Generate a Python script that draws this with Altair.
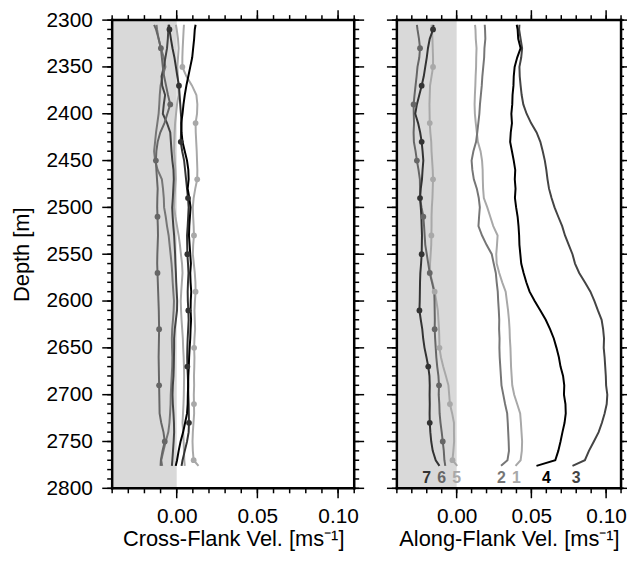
import altair as alt
import pandas as pd

FONT = "Liberation Sans"

# ---------------- data ----------------
depth = [2305, 2310, 2320, 2330, 2340, 2350, 2360, 2370, 2380, 2390,
         2400, 2410, 2420, 2430, 2440, 2450, 2460, 2470, 2480, 2490,
         2500, 2510, 2520, 2530, 2540, 2550, 2560, 2570, 2580, 2590,
         2600, 2610, 2620, 2630, 2640, 2650, 2660, 2670, 2680, 2690,
         2700, 2710, 2720, 2730, 2740, 2750, 2760, 2770, 2776]

profiles = ["1", "2", "3", "5", "6", "7", "4"]
profile_colors = ["#a8a8a8", "#767676", "#444444", "#a8a8a8", "#666666", "#333333", "#000000"]

# Cross-flank velocity [m/s]
cross_1 = [-0.0005, 0.0000, 0.0008, 0.0012, 0.0008, 0.0004, 0.0007, 0.0010, 0.0012, 0.0002,
           -0.0004, -0.0010, -0.0013, -0.0015, -0.0016, -0.0012, -0.0008, -0.0006, -0.0010, -0.0014,
           -0.0016, -0.0008, 0.0002, 0.0012, 0.0020, 0.0026, 0.0033, 0.0036, 0.0032, 0.0028,
           0.0025, 0.0027, 0.0030, 0.0034, 0.0038, 0.0040, 0.0043, 0.0045, 0.0046, 0.0045,
           0.0044, 0.0042, 0.0039, 0.0036, 0.0040, 0.0043, 0.0045, 0.0047, 0.0050]
cross_2 = [-0.0125, -0.0122, -0.0112, -0.0098, -0.0080, -0.0070, -0.0088, -0.0100, -0.0105, -0.0108,
           -0.0112, -0.0120, -0.0128, -0.0134, -0.0140, -0.0134, -0.0118, -0.0092, -0.0085, -0.0080,
           -0.0078, -0.0068, -0.0060, -0.0050, -0.0044, -0.0038, -0.0032, -0.0028, -0.0025, -0.0021,
           -0.0017, -0.0019, -0.0023, -0.0028, -0.0030, -0.0029, -0.0027, -0.0028, -0.0031, -0.0034,
           -0.0037, -0.0038, -0.0041, -0.0045, -0.0052, -0.0068, -0.0082, -0.0096, -0.0090]
cross_3 = [-0.0050, -0.0052, -0.0055, -0.0060, -0.0070, -0.0080, -0.0094, -0.0090, -0.0072, -0.0080,
           -0.0086, -0.0060, -0.0040, -0.0036, -0.0032, -0.0027, -0.0020, -0.0018, -0.0021, -0.0024,
           -0.0028, -0.0025, -0.0021, -0.0016, -0.0013, -0.0010, -0.0008, -0.0005, -0.0003, 0.0000,
           0.0003, 0.0002, -0.0005, -0.0012, -0.0016, -0.0016, -0.0017, -0.0018, -0.0020, -0.0024,
           -0.0026, -0.0024, -0.0020, -0.0017, -0.0016, -0.0019, -0.0023, -0.0027, -0.0030]
cross_4 = [0.0117, 0.0112, 0.0108, 0.0102, 0.0096, 0.0084, 0.0072, 0.0060, 0.0050, 0.0042,
           0.0036, 0.0028, 0.0030, 0.0036, 0.0050, 0.0064, 0.0072, 0.0074, 0.0068, 0.0078,
           0.0086, 0.0082, 0.0078, 0.0076, 0.0080, 0.0084, 0.0088, 0.0084, 0.0086, 0.0090,
           0.0087, 0.0086, 0.0089, 0.0086, 0.0084, 0.0080, 0.0077, 0.0075, 0.0072, 0.0071,
           0.0069, 0.0068, 0.0064, 0.0052, 0.0040, 0.0024, 0.0012, 0.0002, -0.0006]
cross_5 = [0.0045, 0.0043, 0.0040, 0.0037, 0.0035, 0.0035, 0.0060, 0.0095, 0.0122, 0.0128,
           0.0126, 0.0117, 0.0118, 0.0121, 0.0124, 0.0126, 0.0128, 0.0127, 0.0115, 0.0105,
           0.0100, 0.0102, 0.0105, 0.0107, 0.0102, 0.0100, 0.0106, 0.0112, 0.0116, 0.0117,
           0.0113, 0.0110, 0.0112, 0.0114, 0.0110, 0.0108, 0.0110, 0.0109, 0.0107, 0.0108,
           0.0106, 0.0107, 0.0108, 0.0104, 0.0100, 0.0098, 0.0100, 0.0105, 0.0135]
cross_6 = [-0.0140, -0.0128, -0.0112, -0.0098, -0.0092, -0.0086, -0.0078, -0.0066, -0.0054, -0.0040,
           -0.0058, -0.0076, -0.0102, -0.0118, -0.0126, -0.0129, -0.0126, -0.0122, -0.0118, -0.0120,
           -0.0121, -0.0119, -0.0117, -0.0116, -0.0118, -0.0120, -0.0121, -0.0119, -0.0117, -0.0115,
           -0.0113, -0.0111, -0.0110, -0.0109, -0.0110, -0.0111, -0.0112, -0.0111, -0.0110, -0.0109,
           -0.0108, -0.0107, -0.0106, -0.0096, -0.0082, -0.0074, -0.0088, -0.0098, -0.0100]
cross_7 = [-0.0047, -0.0045, -0.0036, -0.0026, -0.0014, -0.0005, 0.0004, 0.0014, 0.0018, 0.0022,
           0.0026, 0.0030, 0.0027, 0.0025, 0.0034, 0.0046, 0.0052, 0.0058, 0.0064, 0.0070,
           0.0074, 0.0071, 0.0068, 0.0064, 0.0065, 0.0066, 0.0070, 0.0073, 0.0070, 0.0068,
           0.0069, 0.0072, 0.0074, 0.0071, 0.0068, 0.0066, 0.0065, 0.0066, 0.0069, 0.0071,
           0.0072, 0.0074, 0.0075, 0.0076, 0.0074, 0.0064, 0.0050, 0.0036, 0.0030]

# Along-flank velocity [m/s]
along_1 = [0.0123, 0.0126, 0.0128, 0.0133, 0.0131, 0.0130, 0.0127, 0.0125, 0.0122, 0.0120,
           0.0122, 0.0128, 0.0135, 0.0142, 0.0160, 0.0170, 0.0174, 0.0175, 0.0177, 0.0182,
           0.0205, 0.0225, 0.0245, 0.0274, 0.0270, 0.0265, 0.0268, 0.0285, 0.0305, 0.0328,
           0.0336, 0.0344, 0.0350, 0.0354, 0.0356, 0.0360, 0.0362, 0.0364, 0.0368, 0.0372,
           0.0385, 0.0405, 0.0425, 0.0430, 0.0434, 0.0438, 0.0436, 0.0428, 0.0394]
along_2 = [0.0188, 0.0190, 0.0192, 0.0186, 0.0184, 0.0178, 0.0172, 0.0168, 0.0162, 0.0156,
           0.0152, 0.0145, 0.0138, 0.0130, 0.0112, 0.0100, 0.0105, 0.0115, 0.0135, 0.0148,
           0.0155, 0.0150, 0.0146, 0.0170, 0.0200, 0.0235, 0.0248, 0.0262, 0.0268, 0.0275,
           0.0278, 0.0282, 0.0285, 0.0284, 0.0287, 0.0286, 0.0288, 0.0292, 0.0296, 0.0300,
           0.0312, 0.0324, 0.0338, 0.0342, 0.0345, 0.0348, 0.0350, 0.0340, 0.0297]
along_3 = [0.0420, 0.0418, 0.0428, 0.0438, 0.0432, 0.0420, 0.0422, 0.0428, 0.0435, 0.0446,
           0.0468, 0.0498, 0.0535, 0.0560, 0.0576, 0.0590, 0.0600, 0.0608, 0.0618, 0.0635,
           0.0655, 0.0680, 0.0706, 0.0725, 0.0750, 0.0775, 0.0792, 0.0820, 0.0858, 0.0895,
           0.0922, 0.0945, 0.0970, 0.0980, 0.0986, 0.0984, 0.0990, 0.0994, 0.0998, 0.1000,
           0.1008, 0.1004, 0.0990, 0.0972, 0.0950, 0.0918, 0.0885, 0.0858, 0.0775]
along_4 = [0.0402, 0.0408, 0.0412, 0.0428, 0.0405, 0.0388, 0.0382, 0.0380, 0.0374, 0.0372,
           0.0366, 0.0370, 0.0362, 0.0358, 0.0370, 0.0382, 0.0392, 0.0389, 0.0394, 0.0390,
           0.0398, 0.0408, 0.0414, 0.0418, 0.0420, 0.0426, 0.0432, 0.0448, 0.0466, 0.0488,
           0.0522, 0.0560, 0.0596, 0.0625, 0.0650, 0.0668, 0.0684, 0.0695, 0.0712, 0.0720,
           0.0718, 0.0728, 0.0730, 0.0722, 0.0708, 0.0695, 0.0680, 0.0660, 0.0534]
along_5 = [-0.0168, -0.0166, -0.0162, -0.0160, -0.0158, -0.0158, -0.0168, -0.0178, -0.0180, -0.0182,
           -0.0181, -0.0180, -0.0176, -0.0170, -0.0168, -0.0164, -0.0160, -0.0158, -0.0160, -0.0162,
           -0.0166, -0.0168, -0.0168, -0.0169, -0.0170, -0.0174, -0.0178, -0.0178, -0.0162, -0.0147,
           -0.0136, -0.0126, -0.0122, -0.0118, -0.0116, -0.0115, -0.0105, -0.0090, -0.0072, -0.0055,
           -0.0050, -0.0045, -0.0030, -0.0018, -0.0018, -0.0017, -0.0022, -0.0028, 0.0004]
along_6 = [-0.0266, -0.0262, -0.0252, -0.0245, -0.0250, -0.0262, -0.0268, -0.0275, -0.0282, -0.0288,
           -0.0287, -0.0285, -0.0288, -0.0286, -0.0275, -0.0266, -0.0255, -0.0246, -0.0245, -0.0245,
           -0.0235, -0.0223, -0.0218, -0.0214, -0.0210, -0.0200, -0.0190, -0.0180, -0.0165, -0.0150,
           -0.0148, -0.0147, -0.0146, -0.0147, -0.0144, -0.0140, -0.0136, -0.0130, -0.0122, -0.0118,
           -0.0120, -0.0116, -0.0114, -0.0108, -0.0100, -0.0093, -0.0086, -0.0082, -0.0076]
along_7 = [-0.0155, -0.0158, -0.0180, -0.0192, -0.0200, -0.0210, -0.0220, -0.0234, -0.0250, -0.0266,
           -0.0277, -0.0258, -0.0244, -0.0234, -0.0228, -0.0223, -0.0228, -0.0232, -0.0240, -0.0245,
           -0.0240, -0.0236, -0.0234, -0.0232, -0.0233, -0.0234, -0.0238, -0.0243, -0.0245, -0.0246,
           -0.0247, -0.0249, -0.0240, -0.0230, -0.0224, -0.0215, -0.0202, -0.0190, -0.0182, -0.0180,
           -0.0181, -0.0180, -0.0181, -0.0180, -0.0176, -0.0170, -0.0160, -0.0140, -0.0115]

# depths at which the marker dots sit (profiles 5, 6, 7)
dots_5 = [2350, 2410, 2470, 2530, 2590, 2650, 2710, 2770]
dots_6 = [2330, 2390, 2450, 2510, 2570, 2630, 2690, 2750]
dots_7 = [2310, 2370, 2430, 2490, 2550, 2610, 2670, 2730]

# profile numbers written at the foot of the along-flank panel
label_text = ["7", "6", "5", "2", "1", "4", "3"]
label_vel = [-0.020, -0.010, 0.000, 0.030, 0.040, 0.060, 0.080]
label_depth = [2789, 2789, 2789, 2789, 2789, 2789, 2789]

# shaded (negative velocity) band
shade_vel = [-0.04, 0.0]
depth_range = [2300, 2800]
vel_range = [-0.04, 0.11]

x_major = [0.0, 0.05, 0.10]
x_minor = [-0.04, -0.03, -0.02, -0.01, 0.0, 0.01, 0.02, 0.03, 0.04, 0.05,
           0.06, 0.07, 0.08, 0.09, 0.10, 0.11]
y_major = [2300, 2350, 2400, 2450, 2500, 2550, 2600, 2650, 2700, 2750, 2800]
y_minor = [2300, 2310, 2320, 2330, 2340, 2350, 2360, 2370, 2380, 2390,
           2400, 2410, 2420, 2430, 2440, 2450, 2460, 2470, 2480, 2490,
           2500, 2510, 2520, 2530, 2540, 2550, 2560, 2570, 2580, 2590,
           2600, 2610, 2620, 2630, 2640, 2650, 2660, 2670, 2680, 2690,
           2700, 2710, 2720, 2730, 2740, 2750, 2760, 2770, 2780, 2790, 2800]

cross = {"1": cross_1, "2": cross_2, "3": cross_3, "4": cross_4,
         "5": cross_5, "6": cross_6, "7": cross_7}
along = {"1": along_1, "2": along_2, "3": along_3, "4": along_4,
         "5": along_5, "6": along_6, "7": along_7}
dots = {"5": dots_5, "6": dots_6, "7": dots_7}

H = 472
TICK_T = 1.5
FRAME_T = 2.5


def long_frame(series):
    rows = []
    for p in profiles:
        for d, v in zip(depth, series[p]):
            rows.append({"profile": p, "depth": d, "vel": v})
    return pd.DataFrame(rows)


def dot_frame(series):
    rows = []
    for p, ds in dots.items():
        for d, v in zip(depth, series[p]):
            if d in ds:
                rows.append({"profile": p, "depth": d, "vel": v})
    return pd.DataFrame(rows)


shade_df = pd.DataFrame({"v0": [shade_vel[0]], "v1": [shade_vel[1]],
                         "d0": [depth_range[0]], "d1": [depth_range[1]]})
label_df = pd.DataFrame({"profile": label_text, "text": label_text,
                         "vel": label_vel, "depth": label_depth})

xs = alt.Scale(domain=vel_range, nice=False, zero=False)
ys = alt.Scale(domain=depth_range, reverse=True, nice=False, zero=False)
cs = alt.Scale(domain=profiles, range=profile_colors)


def label_axis(orient, values=None, title=None, fmt=None, title_pad=0, label_pad=20):
    # labels and titles only; frame and tick marks are drawn separately
    kw = dict(orient=orient, ticks=False, tickSize=0, grid=False, zindex=0,
              domain=False, labels=values is not None, title=title)
    if values is not None:
        kw.update(values=values, format=fmt, labelFontSize=21, labelColor="#000000",
                  labelFont=FONT, labelPadding=label_pad, labelOverlap=False,
                  labelFlush=False)
    else:
        kw.update(values=[])
    if title is not None:
        kw.update(titleFontSize=22, titleFont=FONT, titleFontWeight="normal",
                  titleColor="#000000", titlePadding=title_pad)
    return alt.Axis(**kw)


def x_ticks(vals, length, y_center, thick=TICK_T):
    df = pd.DataFrame({"t": vals})
    return alt.Chart(df).mark_tick(color="#000000", orient="vertical", size=length,
                                   thickness=thick, opacity=1).encode(
        x=alt.X("t:Q", scale=xs, axis=None), y=alt.value(y_center))


def y_ticks(vals, length, x_center, thick=TICK_T):
    df = pd.DataFrame({"t": vals})
    return alt.Chart(df).mark_tick(color="#000000", orient="horizontal", size=length,
                                   thickness=thick, opacity=1).encode(
        y=alt.Y("t:Q", scale=ys, axis=None), x=alt.value(x_center))


def panel(series, width, xtitle, ytitle, right_big, with_text):
    shade = alt.Chart(shade_df).mark_rect(color="#d9d9d9").encode(
        x=alt.X("v0:Q", scale=xs, axis=label_axis("bottom", x_major, xtitle, ".2f", 3, 17)),
        x2="v1:Q",
        y=alt.Y("d0:Q", scale=ys,
                axis=label_axis("left", y_major if ytitle else None, ytitle, "d", 13, 20)),
        y2="d1:Q",
    )
    lines = alt.Chart(long_frame(series)).mark_line(strokeWidth=2).encode(
        x=alt.X("vel:Q", scale=xs, axis=None),
        y=alt.Y("depth:Q", scale=ys, axis=None),
        color=alt.Color("profile:N", scale=cs, legend=None),
        order=alt.Order("depth:Q"),
    )
    pts = alt.Chart(dot_frame(series)).mark_circle(size=34, opacity=1).encode(
        x=alt.X("vel:Q", scale=xs, axis=None),
        y=alt.Y("depth:Q", scale=ys, axis=None),
        color=alt.Color("profile:N", scale=cs, legend=None),
    )
    layers = [shade, lines, pts]
    if with_text:
        layers.append(
            alt.Chart(label_df).mark_text(fontSize=16, fontWeight="bold", font=FONT,
                                          baseline="middle").encode(
                x=alt.X("vel:Q", scale=xs, axis=None),
                y=alt.Y("depth:Q", scale=ys, axis=None),
                text="text:N",
                color=alt.Color("profile:N", scale=cs, legend=None),
            )
        )
    # frame edges (thick) drawn as long ticks at the domain ends
    layers += [
        x_ticks(vel_range, H + FRAME_T, H / 2, FRAME_T),
        y_ticks(depth_range, width + FRAME_T, width / 2, FRAME_T),
    ]
    # tick marks on all four sides (minor every 0.01 / 10 m, major every 0.05 / 50 m)
    rb = right_big
    layers += [
        x_ticks(x_minor, 5, H + 2.5), x_ticks(x_major, 10, H + 5),
        x_ticks(x_minor, 5, -2.5), x_ticks(x_major, 10, -5),
        y_ticks(y_minor, 5, -2.5), y_ticks(y_major, 10, -5),
        y_ticks(y_minor, rb / 2, width + rb / 4), y_ticks(y_major, rb, width + rb / 2),
    ]
    return alt.layer(*layers).properties(width=width, height=H).resolve_axis(
        x="independent", y="independent")


left = panel(cross, 244, "Cross-Flank Vel. [ms⁻¹]", "Depth [m]", 10, False)
right = panel(along, 226, "Along-Flank Vel. [ms⁻¹]", None, 6, True)

chart = alt.hconcat(left, right, spacing=21).properties(
    padding={"left": 1, "top": -2, "right": 0, "bottom": 0}
).configure_view(stroke=None).configure(font=FONT)

chart.save("out.html", embed_options={"renderer": "svg", "actions": False})
